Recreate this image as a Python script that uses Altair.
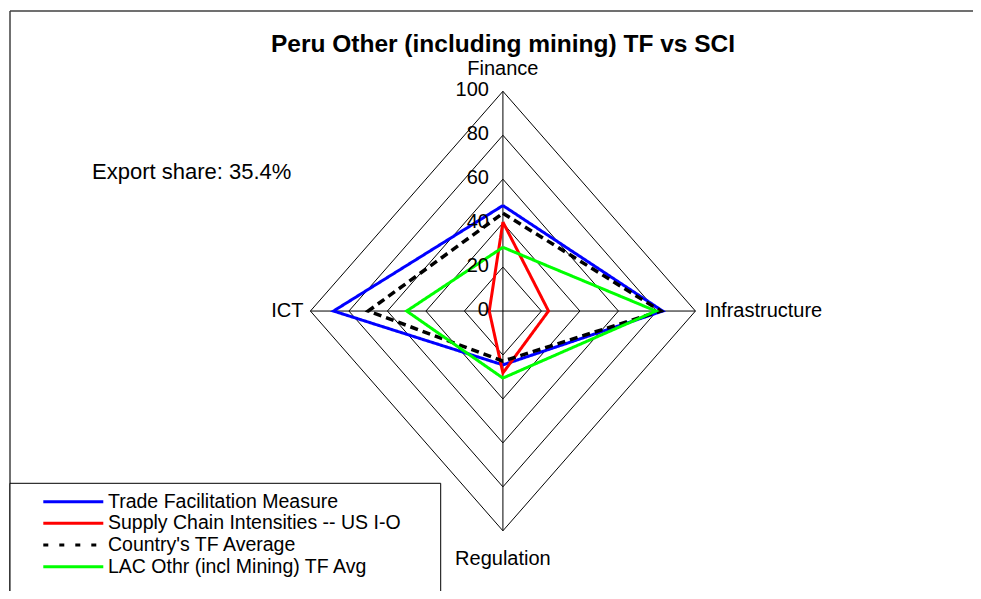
import altair as alt
import pandas as pd

# ---------------- data ----------------
axis_names = ["Finance", "Infrastructure", "Regulation", "ICT"]
dir_x = [0, 1, 0, -1]
dir_y = [1, 0, -1, 0]
ring_levels = [20, 40, 60, 80, 100]
tick_values = [0, 20, 40, 60, 80, 100]
tick_labels = ["0", "20", "40", "60", "80", "100"]

series_names = [
    "Trade Facilitation Measure",
    "Supply Chain Intensities -- US I-O",
    "Country's TF Average",
    "LAC Othr (incl Mining) TF Avg",
]
tf_measure = [48, 83, 24.5, 88]
sci_us_io = [40.5, 23.7, 28.2, 7.1]
country_avg = [44.5, 82, 22.8, 70]
lac_avg = [29, 79.5, 30.5, 50]
series_values = [tf_measure, sci_us_io, country_avg, lac_avg]
series_colors = ["#0000FF", "#FF0000", "#000000", "#00FF00"]
series_dash = [[1, 0], [1, 0], [8, 5], [1, 0]]
legend_dash = [[1, 0], [1, 0], [5, 11], [1, 0]]

title_text = "Peru Other (including mining) TF vs SCI"
note_text = "Export share: 35.4%"

FONT = "Liberation Sans"
W, H = 965, 583
xs = alt.Scale(domain=[-257.1, 244.2], nice=False, zero=False)
ys = alt.Scale(domain=[-127.4, 137.9], nice=False, zero=False)

# ---------------- grid ----------------
ring_rows = []
for lv in ring_levels:
    for k in range(5):
        i = k % 4
        ring_rows.append({"level": lv, "k": k, "x": lv * dir_x[i], "y": lv * dir_y[i]})
rings = alt.Chart(pd.DataFrame(ring_rows)).mark_line(
    color="black", strokeWidth=1
).encode(
    x=alt.X("x:Q", scale=xs, axis=None),
    y=alt.Y("y:Q", scale=ys, axis=None),
    detail="level:N",
    order="k:Q",
)

spoke_df = pd.DataFrame({
    "x": [0, 0, 0, 0], "y": [0, 0, 0, 0],
    "x2": [100 * d for d in dir_x], "y2": [100 * d for d in dir_y],
})
spokes = alt.Chart(spoke_df).mark_rule(color="black", strokeWidth=1).encode(
    x=alt.X("x:Q", scale=xs, axis=None),
    y=alt.Y("y:Q", scale=ys, axis=None),
    x2="x2:Q", y2="y2:Q",
)

tick_df = pd.DataFrame({"x": [0] * len(tick_values), "y": tick_values, "t": tick_labels})
ticks = alt.Chart(tick_df).mark_text(
    align="right", baseline="middle", dx=-14, dy=-1, font=FONT, fontSize=20, color="black"
).encode(x=alt.X("x:Q", scale=xs), y=alt.Y("y:Q", scale=ys), text="t:N")

# axis labels
lab_layers = []
lab_specs = [
    dict(align="center", baseline="alphabetic", dx=0, dy=-16),
    dict(align="left", baseline="middle", dx=9, dy=0),
    dict(align="center", baseline="alphabetic", dx=0, dy=34),
    dict(align="right", baseline="middle", dx=-7, dy=0),
]
for i, name in enumerate(axis_names):
    d = pd.DataFrame({"x": [100 * dir_x[i]], "y": [100 * dir_y[i]], "t": [name]})
    lab_layers.append(
        alt.Chart(d).mark_text(font=FONT, fontSize=20, color="black", **lab_specs[i]).encode(
            x=alt.X("x:Q", scale=xs), y=alt.Y("y:Q", scale=ys), text="t:N"
        )
    )

# ---------------- series ----------------
series_layers = []
for name, vals, col, dash in zip(series_names, series_values, series_colors, series_dash):
    rows = []
    for k in range(5):
        i = k % 4
        rows.append({"k": k, "x": vals[i] * dir_x[i], "y": vals[i] * dir_y[i], "s": name})
    series_layers.append(
        alt.Chart(pd.DataFrame(rows)).mark_line(
            color=col, strokeWidth=3 if col != "#000000" else 3.5, strokeDash=dash,
            strokeJoin="miter", strokeCap="butt"
        ).encode(
            x=alt.X("x:Q", scale=xs), y=alt.Y("y:Q", scale=ys), order="k:Q"
        )
    )

# ---------------- decorations ----------------
one = pd.DataFrame({"a": [0]})
frame = [
    alt.Chart(one).mark_rule(color="#404040", strokeWidth=1.5).encode(
        x=alt.value(2), x2=alt.value(W), y=alt.value(3)),
    alt.Chart(one).mark_rule(color="#404040", strokeWidth=1.5).encode(
        x=alt.value(2), y=alt.value(3), y2=alt.value(H)),
]
title = alt.Chart(one).mark_text(
    text=title_text, font=FONT, fontSize=24.5, fontWeight="bold", align="center",
    baseline="alphabetic", color="black"
).encode(x=alt.value(495), y=alt.value(43.7))
note = alt.Chart(one).mark_text(
    text=note_text, font=FONT, fontSize=22, align="left", baseline="alphabetic", color="black"
).encode(x=alt.value(84), y=alt.value(170.5))

# legend box
leg_box = alt.Chart(one).mark_rect(fill="white", stroke="black", strokeWidth=1).encode(
    x=alt.value(2), x2=alt.value(432.7), y=alt.value(475.3), y2=alt.value(H + 10)
)
leg_layers = [leg_box]
row_y = [493.7, 515.3, 537.0, 558.7]
for name, col, dash, ry in zip(series_names, series_colors, legend_dash, row_y):
    leg_layers.append(
        alt.Chart(one).mark_rule(color=col, strokeWidth=3, strokeDash=dash).encode(
            x=alt.value(35.3), x2=alt.value(95.3), y=alt.value(ry))
    )
    leg_layers.append(
        alt.Chart(one).mark_text(
            text=name, font=FONT, fontSize=19.5, align="left", baseline="middle", color="black"
        ).encode(x=alt.value(100), y=alt.value(ry))
    )

chart = alt.layer(
    rings, spokes, *series_layers, ticks, *lab_layers, title, note, *frame, *leg_layers
).properties(
    width=W, height=H, autosize=alt.AutoSizeParams(type="none"), padding=0,
    background="white"
).configure_view(stroke=None)

chart.save("out.html", embed_options={"renderer": "svg", "actions": False})
